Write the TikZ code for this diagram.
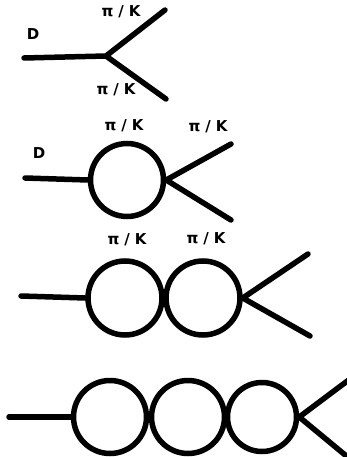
\documentclass[tikz,border=0pt]{standalone}
\usepackage{fontspec}
\setmainfont{DejaVu Sans}
\begin{document}
\begin{tikzpicture}[x=1pt,y=-1pt,
  prop/.style={line width=5.5pt,line cap=round},
  loop/.style={circle,draw,line width=5.5pt,inner sep=0pt,minimum size=#1},
  lbl/.style={font=\bfseries\fontsize{15}{18}\selectfont,inner sep=0pt},
]
\useasboundingbox (0,0) rectangle (347,457);
\newcommand{\pk}{π\hspace{5pt}/\hspace{5pt}K}
% tree-level decay
\coordinate (a0) at (24,58);
\coordinate (a1) at (106,56);
\coordinate (a2) at (165,10);
\coordinate (a3) at (166,99);
\draw[prop] (a0) -- (a1) -- (a2);
\draw[prop] (a1) -- (a3);
\node[lbl] (aD) at (33,34) {D};
\node[lbl] (aP1) at (121,12) {\pk};
\node[lbl] (aP2) at (116,90) {\pk};
% one loop
\coordinate (b0) at (25,178);
\node[loop=73pt] (b1) at (127,180) {};
\coordinate (b2) at (231,144);
\coordinate (b3) at (231,220);
\draw[prop] (b0) -- (b1.west);
\draw[prop] (b1.east) -- (b2);
\draw[prop] (b1.east) -- (b3);
\node[lbl] (bD) at (39,153) {D};
\node[lbl] (bP1) at (124,126) {\pk};
\node[lbl] (bP2) at (208,127) {\pk};
% two loops
\coordinate (c0) at (21,296);
\node[loop=74pt] (c1) at (125,298) {};
\node[loop=74pt] (c2) at (203,298) {};
\coordinate (c3) at (308,254);
\coordinate (c4) at (310,336);
\draw[prop] (c0) -- (c1.west);
\draw[prop] (c2.east) -- (c3);
\draw[prop] (c2.east) -- (c4);
\node[lbl] (cP1) at (127,240) {\pk};
\node[lbl] (cP2) at (206,239) {\pk};
% three loops
\coordinate (d0) at (9,417);
\node[loop=73pt] (d1) at (110,417) {};
\node[loop=73pt] (d2) at (188,417) {};
\node[loop=69pt] (d3) at (262,417) {};
\coordinate (d4) at (350,379);
\coordinate (d5) at (350,459);
\draw[prop] (d0) -- (d1.west);
\draw[prop] (d3.east) -- (d4);
\draw[prop] (d3.east) -- (d5);
\end{tikzpicture}
\end{document}
